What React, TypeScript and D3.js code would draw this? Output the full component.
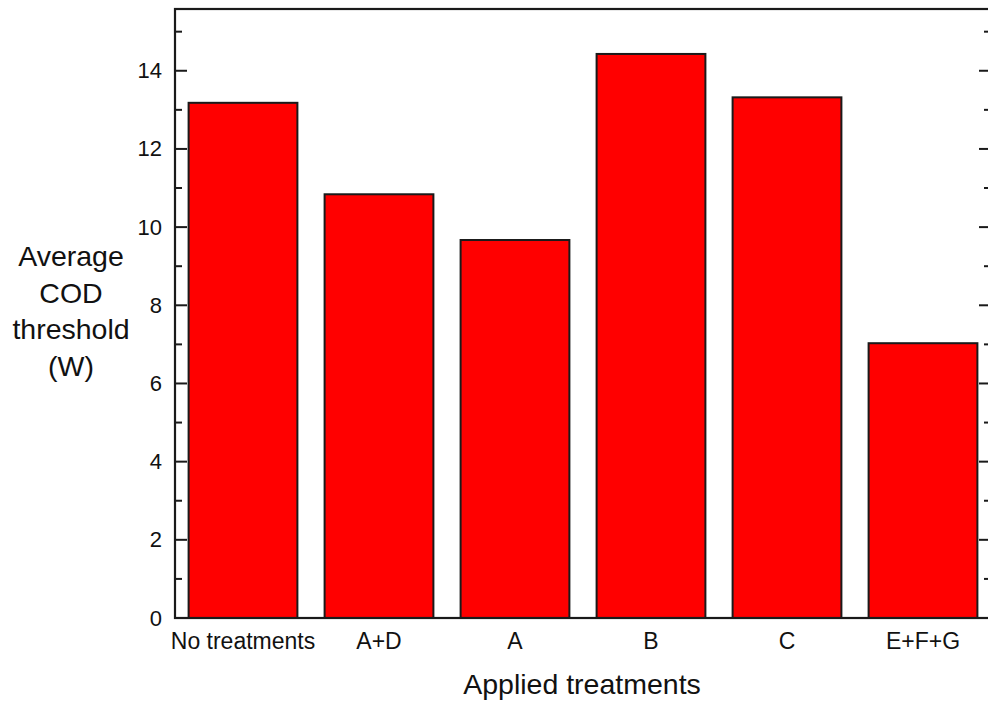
import React from "react";
import * as d3 from "d3";

const categories = ["No treatments", "A+D", "A", "B", "C", "E+F+G"];
const values = [13.18, 10.84, 9.67, 14.43, 13.32, 7.03];
const majorTicks = [0, 2, 4, 6, 8, 10, 12, 14];
const minorTicks = [1, 3, 5, 7, 9, 11, 13, 15];
const yTitleLines = ["Average", "COD", "threshold", "(W)"];
const xTitle = "Applied treatments";

const W = 988;
const H = 702;
const frame = { left: 175, right: 991, top: 9, bottom: 618 };
const font = "Arial, 'Liberation Sans', sans-serif";

export default function App() {
  const x = d3
    .scaleBand<string>()
    .domain(categories)
    .range([frame.left, frame.right])
    .paddingInner(0.2)
    .paddingOuter(0.1);
  const y = d3.scaleLinear().domain([0, 15.58]).range([frame.bottom, frame.top]);

  return (
    <svg
      width={W}
      height={H}
      style={{ position: "absolute", left: 0, top: 0, background: "#fff" }}
      fontFamily={font}
    >
      {categories.map((c, i) => (
        <rect
          key={c}
          x={x(c)}
          y={y(values[i])}
          width={x.bandwidth()}
          height={y(0) - y(values[i])}
          fill="#ff0000"
          stroke="#1a1a1a"
          strokeWidth={2}
        />
      ))}

      {/* frame */}
      <rect
        x={frame.left}
        y={frame.top}
        width={frame.right - frame.left}
        height={frame.bottom - frame.top}
        fill="none"
        stroke="#1a1a1a"
        strokeWidth={2.2}
      />

      {/* y ticks on both sides, pointing inward */}
      {majorTicks.map((t) => (
        <g key={"M" + t}>
          <line x1={frame.left} x2={frame.left + 12} y1={y(t)} y2={y(t)} stroke="#1a1a1a" strokeWidth={2} />
          <line x1={frame.right} x2={frame.right - 12} y1={y(t)} y2={y(t)} stroke="#1a1a1a" strokeWidth={2} />
          <text
            x={frame.left - 13}
            y={y(t)}
            textAnchor="end"
            dominantBaseline="central"
            fontSize={22}
            fill="#111"
          >
            {t}
          </text>
        </g>
      ))}
      {minorTicks.map((t) => (
        <g key={"m" + t}>
          <line x1={frame.left} x2={frame.left + 7} y1={y(t)} y2={y(t)} stroke="#1a1a1a" strokeWidth={2} />
          <line x1={frame.right} x2={frame.right - 7} y1={y(t)} y2={y(t)} stroke="#1a1a1a" strokeWidth={2} />
        </g>
      ))}

      {/* category labels */}
      {categories.map((c) => (
        <text
          key={"l" + c}
          x={(x(c) ?? 0) + x.bandwidth() / 2}
          y={649}
          textAnchor="middle"
          fontSize={23}
          fill="#111"
        >
          {c}
        </text>
      ))}

      <text x={582} y={694} textAnchor="middle" fontSize={28.5} fill="#111">
        {xTitle}
      </text>

      {yTitleLines.map((line, i) => (
        <text key={line} x={71} y={266 + i * 36.5} textAnchor="middle" fontSize={28.5} fill="#111">
          {line}
        </text>
      ))}
    </svg>
  );
}
